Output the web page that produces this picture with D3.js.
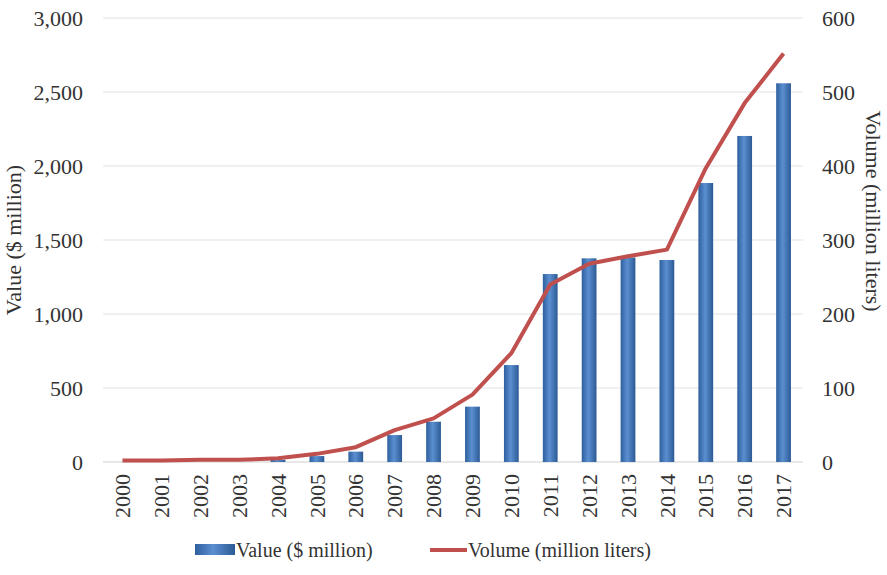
<!DOCTYPE html>
<html>
<head>
<meta charset="utf-8">
<script src="https://cdnjs.cloudflare.com/ajax/libs/d3/7.8.5/d3.min.js"></script>
<style>
body {margin: 0; background: #fff;}
svg text {font-family: "Liberation Serif", "Times New Roman", Times, "DejaVu Serif", serif; fill: #333;}
</style>
</head>
<body>
<svg id="chart" width="887" height="575"></svg>
<script>
// years on the x axis
const years = ["2000","2001","2002","2003","2004","2005","2006","2007","2008",
               "2009","2010","2011","2012","2013","2014","2015","2016","2017"];
// Value ($ million) - bars, left axis
const valueMillion = [0, 0, 0, 0, 15, 40, 70, 182, 272, 374, 655, 1270, 1376, 1382, 1365, 1885, 2203, 2559];
// Volume (million liters) - line, right axis
const volumeLiters = [2, 2, 3, 3, 5, 11, 20, 43, 59, 91, 147, 240, 268, 278, 287, 397, 485, 552];
const leftTicks = [0, 500, 1000, 1500, 2000, 2500, 3000];
const rightTicks = [0, 100, 200, 300, 400, 500, 600];

const FONT = "'Liberation Serif', 'Times New Roman', Times, 'DejaVu Serif', serif";
const svg = d3.select("#chart");
const plotL = 103, plotR = 803, plotT = 18, plotB = 462;

const x = d3.scaleBand().domain(years).range([plotL, plotR]).paddingInner(0.62).paddingOuter(0.31);
const yL = d3.scaleLinear().domain([0, 3000]).range([plotB, plotT]);
const yR = d3.scaleLinear().domain([0, 600]).range([plotB, plotT]);

// bar gradient
const defs = svg.append("defs");
const grad = defs.append("linearGradient").attr("id", "barGrad").attr("x1", "0").attr("x2", "1").attr("y1", "0").attr("y2", "0");
grad.append("stop").attr("offset", "0%").attr("stop-color", "#2e5f9e");
grad.append("stop").attr("offset", "45%").attr("stop-color", "#5b8fd0");
grad.append("stop").attr("offset", "100%").attr("stop-color", "#2c5a95");

// gridlines
svg.append("g").selectAll("line").data(leftTicks).enter().append("line")
  .attr("x1", plotL).attr("x2", plotR)
  .attr("y1", d => yL(d)).attr("y2", d => yL(d))
  .attr("stroke", d => d === 0 ? "#cfcfcf" : "#e2e2e2").attr("stroke-width", 1.2);

// left axis
const axL = svg.append("g").attr("transform", `translate(${plotL - 17},0)`)
  .call(d3.axisLeft(yL).tickValues(leftTicks).tickSize(0).tickFormat(d3.format(",")));
axL.attr("font-family", null);
axL.select(".domain").remove();
axL.selectAll("text").attr("font-size", 22).style("font-family", FONT).attr("fill", "#333");

// right axis
const axR = svg.append("g").attr("transform", `translate(${plotR + 16},0)`)
  .call(d3.axisRight(yR).tickValues(rightTicks).tickSize(0));
axR.attr("font-family", null);
axR.select(".domain").remove();
axR.selectAll("text").attr("font-size", 22).style("font-family", FONT).attr("fill", "#333");

// x axis labels
const axX = svg.append("g").attr("transform", `translate(0,${plotB})`)
  .call(d3.axisBottom(x).tickSize(0));
axX.attr("font-family", null);
axX.select(".domain").remove();
axX.selectAll("text")
  .attr("font-size", 22).style("font-family", FONT).attr("fill", "#333")
  .attr("text-anchor", "end").attr("dx", "-12").attr("dy", "0.35em")
  .attr("transform", "rotate(-90)").attr("x", 0).attr("y", 0);

// bars
svg.append("g").selectAll("rect").data(valueMillion).enter().append("rect")
  .attr("x", (d, i) => x(years[i]))
  .attr("y", d => yL(d))
  .attr("width", x.bandwidth())
  .attr("height", d => plotB - yL(d))
  .attr("fill", "url(#barGrad)");

// line
const line = d3.line().x((d, i) => x(years[i]) + x.bandwidth() / 2).y(d => yR(d));
svg.append("path").datum(volumeLiters)
  .attr("d", line).attr("fill", "none")
  .attr("stroke", "#c0504d").attr("stroke-width", 4).attr("stroke-linejoin", "round");

// axis titles
svg.append("text").attr("transform", "translate(21,240) rotate(-90)")
  .attr("text-anchor", "middle").attr("font-size", 22).style("font-family", FONT).text("Value ($ million)");
svg.append("text").attr("transform", "translate(866,211) rotate(90)")
  .attr("text-anchor", "middle").attr("font-size", 22).style("font-family", FONT).text("Volume (million liters)");

// legend
const lg = svg.append("g").attr("transform", "translate(0,550)");
lg.append("rect").attr("x", 195).attr("y", -6).attr("width", 40).attr("height", 11).attr("fill", "url(#barGrad)");
lg.append("text").attr("x", 236).attr("y", 7).attr("font-size", 20).style("font-family", FONT).text("Value ($ million)");
lg.append("line").attr("x1", 430).attr("x2", 467).attr("y1", 0).attr("y2", 0)
  .attr("stroke", "#c0504d").attr("stroke-width", 4);
lg.append("text").attr("x", 468).attr("y", 7).attr("font-size", 20).style("font-family", FONT).text("Volume (million liters)");
</script>
</body>
</html>
